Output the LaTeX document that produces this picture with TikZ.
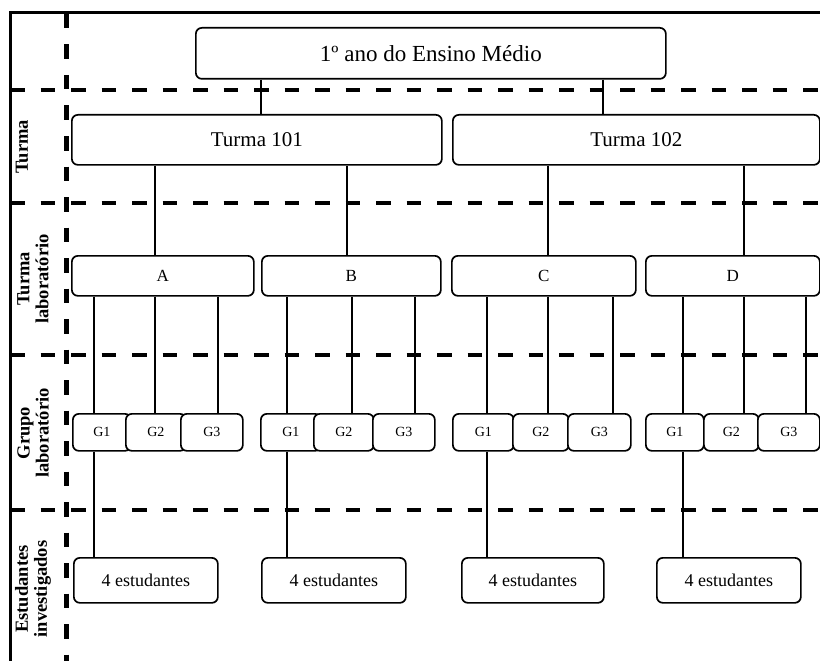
\documentclass[tikz,border=0pt]{standalone}
\usepackage{fontspec}
\setmainfont{Liberation Serif}
\begin{document}
\begin{tikzpicture}[x=1pt,y=-1pt,
  box/.style={draw, line width=1.7pt, rounded corners=6pt, fill=white, inner sep=0pt, anchor=north west},
  conn/.style={line width=1.7pt},
  sep/.style={line width=4.5pt, dash pattern=on 14.5pt off 16pt},
  lab/.style={rotate=90, align=center, font=\fontsize{18.5}{19}\selectfont\bfseries, inner sep=0pt}
]
\useasboundingbox (0,0) rectangle (820,661);
% frame
\draw[line width=3pt] (10,661) -- (10,12.5) -- (820,12.5);
% separators
\foreach \yy in {90,203,355,510} \draw[sep] (10,\yy) -- (820,\yy);
\draw[sep] (66.5,14) -- (66.5,661);
% labels
\node[lab] (lT) at (22,147) {Turma};
\node[lab] (lTL) at (33,279) {Turma\\laboratório};
\node[lab] (lGL) at (33,433) {Grupo\\laboratório};
\node[lab] (lEI) at (33,589) {Estudantes\\investigados};
% top
\node[box, minimum width=470pt, minimum height=51pt, font=\fontsize{23}{23}\selectfont] (top) at (195,27) {1º ano do Ensino Médio};
\node[box, minimum width=370pt, minimum height=50pt, font=\fontsize{21}{21}\selectfont] (T1) at (71,114) {Turma 101};
\node[box, minimum width=367pt, minimum height=50pt, font=\fontsize{21}{21}\selectfont] (T2) at (452,114) {Turma 102};
\draw[conn] (top.south -| 261,0) -- (T1.north -| 261,0);
\draw[conn] (top.south -| 603,0) -- (T2.north -| 603,0);
% turma laboratorio
\node[box, minimum width=182pt, minimum height=40pt, font=\fontsize{17}{17}\selectfont] (A) at (71,255) {A};
\node[box, minimum width=179pt, minimum height=40pt, font=\fontsize{17}{17}\selectfont] (B) at (261,255) {B};
\node[box, minimum width=184pt, minimum height=40pt, font=\fontsize{17}{17}\selectfont] (C) at (451,255) {C};
\node[box, minimum width=174pt, minimum height=40pt, font=\fontsize{17}{17}\selectfont] (D) at (645,255) {D};
\draw[conn] (T1.south -| 155,0) -- (A.north -| 155,0);
\draw[conn] (T1.south -| 347,0) -- (B.north -| 347,0);
\draw[conn] (T2.south -| 548,0) -- (C.north -| 548,0);
\draw[conn] (T2.south -| 744,0) -- (D.north -| 744,0);
% grupos
\tikzset{gbox/.style={box, minimum height=37pt, font=\fontsize{14}{14}\selectfont}}
\node[gbox, minimum width=58pt] (A1) at (72,413) {G1};
\node[gbox, minimum width=60pt] (A2) at (125,413) {G2};
\node[gbox, minimum width=62pt] (A3) at (180,413) {G3};
\node[gbox, minimum width=60pt] (B1) at (260,413) {G1};
\node[gbox, minimum width=60pt] (B2) at (313,413) {G2};
\node[gbox, minimum width=62pt] (B3) at (372,413) {G3};
\node[gbox, minimum width=61pt] (C1) at (452,413) {G1};
\node[gbox, minimum width=56pt] (C2) at (512,413) {G2};
\node[gbox, minimum width=63pt] (C3) at (567,413) {G3};
\node[gbox, minimum width=58pt] (D1) at (645,413) {G1};
\node[gbox, minimum width=55pt] (D2) at (703,413) {G2};
\node[gbox, minimum width=62pt] (D3) at (757,413) {G3};
\draw[conn] (A.south -| 94,0) -- (A1.north -| 94,0);
\draw[conn] (A.south -| 155,0) -- (A2.north -| 155,0);
\draw[conn] (A.south -| 218,0) -- (A3.north -| 218,0);
\draw[conn] (B.south -| 287,0) -- (B1.north -| 287,0);
\draw[conn] (B.south -| 352,0) -- (B2.north -| 352,0);
\draw[conn] (B.south -| 415,0) -- (B3.north -| 415,0);
\draw[conn] (C.south -| 487,0) -- (C1.north -| 487,0);
\draw[conn] (C.south -| 548,0) -- (C2.north -| 548,0);
\draw[conn] (C.south -| 613,0) -- (C3.north -| 613,0);
\draw[conn] (D.south -| 683,0) -- (D1.north -| 683,0);
\draw[conn] (D.south -| 744,0) -- (D2.north -| 744,0);
\draw[conn] (D.south -| 806,0) -- (D3.north -| 806,0);
% estudantes
\tikzset{ebox/.style={box, minimum height=45pt, font=\fontsize{18}{18}\selectfont}}
\node[ebox, minimum width=144pt] (EA) at (73,557) {4 estudantes};
\node[ebox, minimum width=144pt] (EB) at (261,557) {4 estudantes};
\node[ebox, minimum width=142pt] (EC) at (461,557) {4 estudantes};
\node[ebox, minimum width=144pt] (ED) at (656,557) {4 estudantes};
\draw[conn] (A1.south -| 94,0) -- (EA.north -| 94,0);
\draw[conn] (B1.south -| 287,0) -- (EB.north -| 287,0);
\draw[conn] (C1.south -| 487,0) -- (EC.north -| 487,0);
\draw[conn] (D1.south -| 683,0) -- (ED.north -| 683,0);
\end{tikzpicture}
\end{document}
